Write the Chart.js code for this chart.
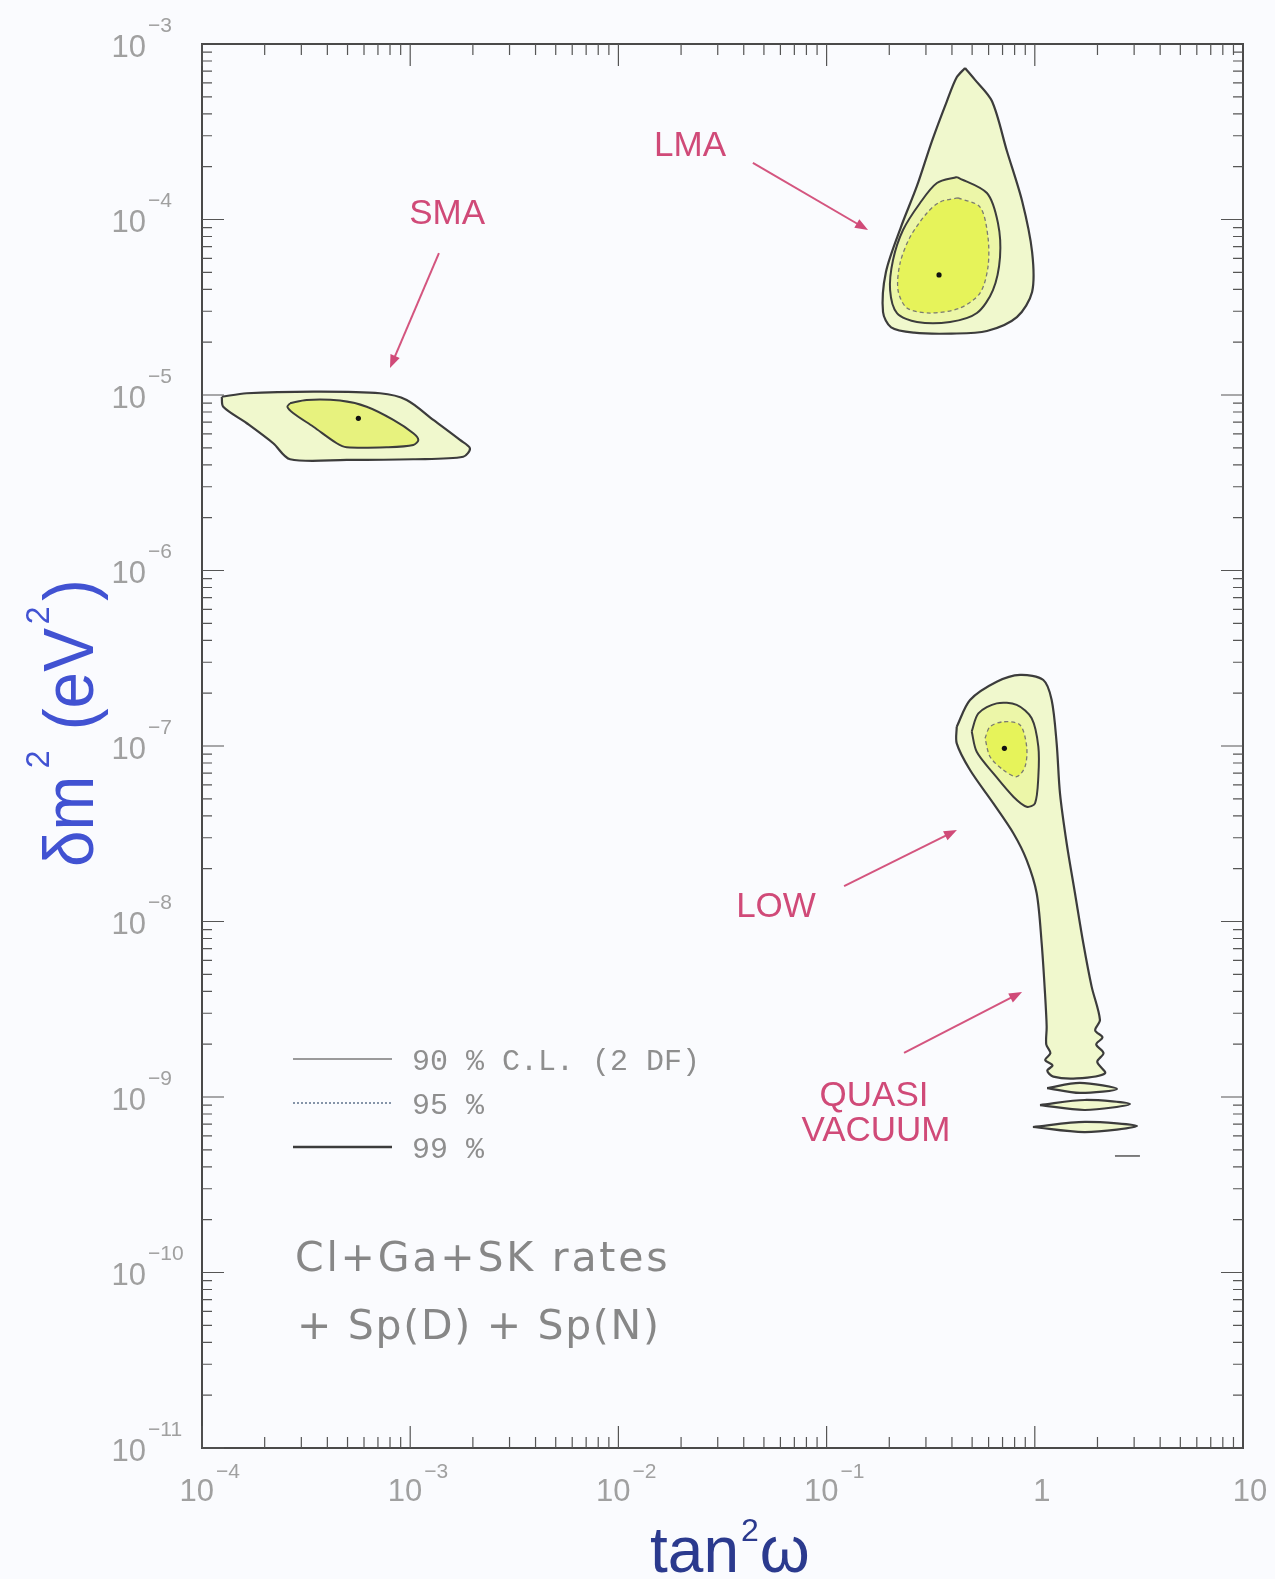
<!DOCTYPE html>
<html>
<head>
<meta charset="utf-8">
<script src="https://cdn.jsdelivr.net/npm/chart.js@4.4.1/dist/chart.umd.min.js"></script>
<style>
  html, body { margin: 0; padding: 0; background: #fafbfe; }
  canvas { display: block; }
</style>
</head>
<body>
<canvas id="chart" width="1275" height="1579"></canvas>
<script>
// Contour vertices, each as [log10 tan²ω, log10 δm²/eV²]

// SMA solution
const smaC99 = [[-3.905,-5.010],[-3.785,-4.990],[-3.465,-4.981],[-3.145,-4.990],[-3.017,-5.028],[-2.889,-5.142],
  [-2.761,-5.256],[-2.713,-5.304],[-2.745,-5.352],[-2.985,-5.366],[-3.305,-5.370],[-3.577,-5.366],
  [-3.658,-5.275],[-3.785,-5.161],[-3.898,-5.067]];
const smaC95 = [[-3.577,-5.047],[-3.497,-5.028],[-3.337,-5.032],[-3.209,-5.067],[-3.081,-5.142],[-2.985,-5.218],
  [-2.961,-5.256],[-2.985,-5.285],[-3.113,-5.298],[-3.305,-5.298],[-3.353,-5.275],[-3.465,-5.181],
  [-3.561,-5.104],[-3.590,-5.067]];
const smaBest = [[-3.249,-5.133]];

// LMA solution
const lmaC99 = [[-0.335,-3.137],[-0.290,-3.200],[-0.206,-3.325],[-0.134,-3.610],[-0.061,-3.895],[-0.013,-4.185],
  [-0.013,-4.413],[-0.086,-4.556],[-0.230,-4.635],[-0.400,-4.650],[-0.580,-4.645],[-0.690,-4.615],
  [-0.729,-4.527],[-0.715,-4.299],[-0.643,-4.043],[-0.566,-3.809],[-0.494,-3.553],[-0.422,-3.325],
  [-0.375,-3.190]];
const lmaC95 = [[-0.374,-3.758],[-0.230,-3.849],[-0.177,-4.020],[-0.167,-4.214],[-0.201,-4.402],[-0.278,-4.533],
  [-0.407,-4.584],[-0.566,-4.584],[-0.662,-4.533],[-0.695,-4.402],[-0.681,-4.231],[-0.633,-4.060],
  [-0.551,-3.906],[-0.470,-3.792]];
const lmaC90 = [[-0.369,-3.877],[-0.263,-3.929],[-0.225,-4.100],[-0.225,-4.271],[-0.263,-4.419],[-0.359,-4.504],
  [-0.503,-4.533],[-0.614,-4.504],[-0.657,-4.402],[-0.647,-4.248],[-0.599,-4.100],[-0.518,-3.963],
  [-0.455,-3.900]];
const lmaBest = [[-0.460,-4.316]];

// LOW solution, joining the quasi-vacuum tail
const lowC99 = [[-0.375,-6.890],[-0.311,-6.738],[-0.183,-6.634],[-0.071,-6.595],[0.041,-6.624],[0.081,-6.738],
  [0.105,-6.985],[0.121,-7.270],[0.153,-7.554],[0.193,-7.839],[0.233,-8.124],[0.273,-8.371],[0.313,-8.561],
  [0.290,-8.620],[0.325,-8.660],[0.295,-8.700],[0.330,-8.750],[0.300,-8.800],[0.337,-8.865],[0.201,-8.894],
  [0.089,-8.884],[0.060,-8.850],[0.085,-8.820],[0.050,-8.789],[0.075,-8.750],[0.055,-8.700],[0.057,-8.600],
  [0.049,-8.409],[0.033,-8.124],[0.009,-7.839],[-0.039,-7.650],[-0.103,-7.497],[-0.199,-7.327],
  [-0.311,-7.137],[-0.375,-6.985]];
const lowC95 = [[-0.303,-6.918],[-0.271,-6.814],[-0.183,-6.757],[-0.087,-6.766],[-0.015,-6.842],[0.017,-7.004],
  [0.017,-7.175],[0.001,-7.327],[-0.039,-7.346],[-0.103,-7.289],[-0.199,-7.156],[-0.279,-7.033]];
const lowC90 = [[-0.239,-6.956],[-0.215,-6.890],[-0.151,-6.862],[-0.071,-6.880],[-0.039,-7.004],[-0.047,-7.118],
  [-0.087,-7.175],[-0.151,-7.137],[-0.215,-7.061]];
const lowBest = [[-0.146,-7.013]];

// Quasi-vacuum islands
const qvIsland1 = [[0.059,-8.949],[0.217,-8.920],[0.395,-8.954],[0.217,-8.977]];
const qvIsland2 = [[0.025,-9.046],[0.241,-9.017],[0.457,-9.040],[0.241,-9.074]];
const qvIsland3 = [[-0.009,-9.171],[0.241,-9.142],[0.491,-9.165],[0.241,-9.200]];
const qvSliver  = [[0.385,-9.336],[0.505,-9.336]];

// Axis ticks
const xTickValues = [1e-4, 1e-3, 1e-2, 1e-1, 1, 10];
const xTickBase   = ['10', '10', '10', '10', '1', '10'];
const xTickExp    = ['\u22124', '\u22123', '\u22122', '\u22121', '', ''];
const yTickValues = [1e-11, 1e-10, 1e-9, 1e-8, 1e-7, 1e-6, 1e-5, 1e-4, 1e-3];
const yTickExp    = ['\u221211', '\u221210', '\u22129', '\u22128', '\u22127', '\u22126', '\u22125', '\u22124', '\u22123'];

// Region labels and their arrows, in the same log coordinates
const regionLabels = [
  { text: 'SMA', at: [-2.823, -3.969] },
  { text: 'LMA', at: [-1.656, -3.581] },
  { text: 'LOW', at: [-1.243, -7.917] },
  { text: 'QUASI', at: [-0.772, -8.994] },
  { text: 'VACUUM', at: [-0.763, -9.194] }
];
const regionArrows = [
  { from: [-2.862, -4.191], to: [-3.097, -4.846] },
  { from: [-1.354, -3.678], to: [-0.801, -4.060] },
  { from: [-0.916, -7.798], to: [-0.374, -7.479] },
  { from: [-0.628, -8.749], to: [-0.061, -8.402] }
];

const levelNames = ['90 % C.L. (2 DF)', '95 %', '99 %'];

const levelStyle = {
  99: { fill: '#f0f8cd', line: '#3c3c3c', width: 2.2, dash: [], order: 30 },
  95: { fill: '#ecf6a8', line: '#3c3c3c', width: 2.0, dash: [], order: 20 },
  90: { fill: '#e6f35a', line: '#7a7a72', width: 1.3, dash: [4, 3], order: 10 }
};

const toXY = arr => arr.map(([u, v]) => ({ x: Math.pow(10, u), y: Math.pow(10, v) }));
const closedLoop = arr => { const p = toXY(arr); p.push(p[0]); return p; };

function contour(label, arr, level, fillOverride) {
  const st = levelStyle[level];
  return {
    label, data: closedLoop(arr), showLine: true, fill: 'shape',
    backgroundColor: fillOverride || st.fill, borderColor: st.line, borderWidth: st.width,
    borderDash: st.dash, pointRadius: 0, tension: 0.3, order: st.order
  };
}
function bestFit(label, arr) {
  return { label, data: toXY(arr), showLine: false, pointRadius: 2.6,
    pointBackgroundColor: '#111', pointBorderWidth: 0, order: 0 };
}

const datasets = [
  contour('SMA 99%', smaC99, 99),
  contour('SMA 95%', smaC95, 95, '#e7f27e'),
  contour('LMA 99%', lmaC99, 99),
  contour('LMA 95%', lmaC95, 95),
  contour('LMA 90%', lmaC90, 90),
  contour('LOW 99%', lowC99, 99),
  contour('LOW 95%', lowC95, 95),
  contour('LOW 90%', lowC90, 90),
  contour('QV 99% a', qvIsland1, 99),
  contour('QV 99% b', qvIsland2, 99),
  contour('QV 99% c', qvIsland3, 99),
  { label: 'QV sliver', data: toXY(qvSliver), showLine: true, fill: false, borderColor: '#555',
    borderWidth: 1.5, pointRadius: 0, order: 30 },
  bestFit('SMA best fit', smaBest),
  bestFit('LMA best fit', lmaBest),
  bestFit('LOW best fit', lowBest)
];

const pageBackground = {
  id: 'pageBackground',
  beforeDraw(chart) {
    const ctx = chart.ctx;
    ctx.save();
    ctx.fillStyle = '#fafbfe';
    ctx.fillRect(0, 0, chart.width, chart.height);
    ctx.restore();
  }
};

function arrow(ctx, x1, y1, x2, y2) {
  const ang = Math.atan2(y2 - y1, x2 - x1);
  ctx.beginPath();
  ctx.moveTo(x1, y1);
  ctx.lineTo(x2 - 8 * Math.cos(ang), y2 - 8 * Math.sin(ang));
  ctx.stroke();
  ctx.beginPath();
  ctx.moveTo(x2, y2);
  ctx.lineTo(x2 - 13 * Math.cos(ang) + 5 * Math.sin(ang), y2 - 13 * Math.sin(ang) - 5 * Math.cos(ang));
  ctx.lineTo(x2 - 13 * Math.cos(ang) - 5 * Math.sin(ang), y2 - 13 * Math.sin(ang) + 5 * Math.cos(ang));
  ctx.closePath();
  ctx.fill();
}

const frameAndText = {
  id: 'frameAndText',
  afterDraw(chart) {
    const ctx = chart.ctx;
    const xs = chart.scales.x, ys = chart.scales.y;
    const { left, right, top, bottom } = chart.chartArea;
    const px = u => xs.getPixelForValue(Math.pow(10, u));
    const py = v => ys.getPixelForValue(Math.pow(10, v));
    ctx.save();

    // frame
    ctx.strokeStyle = '#4a4a4a';
    ctx.lineWidth = 2;
    ctx.strokeRect(left, top, right - left, bottom - top);

    // inward ticks on all four sides
    ctx.lineWidth = 1.2;
    ctx.strokeStyle = '#555';
    for (let d = -4; d <= 0; d++) {
      for (let m = 1; m <= 9; m++) {
        const x = xs.getPixelForValue(m * Math.pow(10, d));
        const len = m === 1 ? 22 : 11;
        ctx.beginPath();
        ctx.moveTo(x, bottom); ctx.lineTo(x, bottom - len);
        ctx.moveTo(x, top); ctx.lineTo(x, top + len);
        ctx.stroke();
      }
    }
    for (let d = -11; d <= -4; d++) {
      for (let m = 1; m <= 9; m++) {
        const y = ys.getPixelForValue(m * Math.pow(10, d));
        const len = m === 1 ? 22 : 10;
        ctx.beginPath();
        ctx.moveTo(left, y); ctx.lineTo(left + len, y);
        ctx.moveTo(right, y); ctx.lineTo(right - len, y);
        ctx.stroke();
      }
    }

    // tick labels
    ctx.fillStyle = '#a0a0a0';
    ctx.textBaseline = 'middle';
    xTickValues.forEach((v, i) => {
      const x = xs.getPixelForValue(v);
      const y = bottom + 44;
      ctx.font = '31px "Liberation Sans", Arial, sans-serif';
      if (xTickExp[i]) {
        ctx.textAlign = 'right';
        ctx.fillText(xTickBase[i], x + 12, y);
        ctx.textAlign = 'left';
        ctx.font = '21px "Liberation Sans", Arial, sans-serif';
        ctx.fillText(xTickExp[i], x + 14, y - 20);
      } else {
        ctx.textAlign = 'center';
        ctx.fillText(xTickBase[i], x + 7, y);
      }
    });
    yTickValues.forEach((v, i) => {
      const y = ys.getPixelForValue(v);
      ctx.font = '31px "Liberation Sans", Arial, sans-serif';
      ctx.textAlign = 'right';
      ctx.fillText('10', left - 56, y + 4);
      ctx.textAlign = 'left';
      ctx.font = '21px "Liberation Sans", Arial, sans-serif';
      ctx.fillText(yTickExp[i], left - 54, y - 18);
    });

    // x-axis title: tan²ω
    ctx.fillStyle = '#2b3a8e';
    ctx.textBaseline = 'alphabetic';
    ctx.textAlign = 'left';
    ctx.font = '64px "Liberation Sans", Arial, sans-serif';
    ctx.fillText('tan', 650, 1572);
    const wTan = ctx.measureText('tan').width;
    ctx.font = '32px "Liberation Sans", Arial, sans-serif';
    ctx.fillText('2', 650 + wTan + 2, 1541);
    const w2 = ctx.measureText('2').width;
    ctx.font = '64px "Liberation Sans", Arial, sans-serif';
    ctx.fillText('\u03c9', 650 + wTan + w2 + 3, 1572);

    // y-axis title: δm² (eV²), rotated
    ctx.save();
    ctx.translate(93, 723);
    ctx.rotate(-Math.PI / 2);
    ctx.fillStyle = '#4152d2';
    const mainF = '70px "Liberation Sans", Arial, sans-serif';
    const supF = '34px "Liberation Sans", Arial, sans-serif';
    const parts = [
      { t: '\u03b4m', f: mainF, dy: 0, gap: 0 },
      { t: '2', f: supF, dy: -44, gap: 8 },
      { t: ' (eV', f: mainF, dy: 0, gap: 2 },
      { t: '2', f: supF, dy: -44, gap: 4 },
      { t: ')', f: mainF, dy: 0, gap: 6 }
    ];
    let total = 0;
    parts.forEach(p => { ctx.font = p.f; p.w = ctx.measureText(p.t).width; total += p.w + p.gap; });
    const sx = 288 / total;
    ctx.scale(sx, 1);
    let cx = -total / 2;
    parts.forEach(p => { cx += p.gap; ctx.font = p.f; ctx.fillText(p.t, cx, p.dy); cx += p.w; });
    ctx.restore();

    // confidence-level key
    const keyY = [1059, 1103, 1147];
    const keyStyles = [
      { c: '#7a7a7a', w: 1.4, dash: [] },
      { c: '#8594a8', w: 2, dash: [2, 2] },
      { c: '#3c3c3c', w: 2.6, dash: [] }
    ];
    keyY.forEach((y, i) => {
      ctx.strokeStyle = keyStyles[i].c;
      ctx.lineWidth = keyStyles[i].w;
      ctx.setLineDash(keyStyles[i].dash);
      ctx.beginPath();
      ctx.moveTo(293, y); ctx.lineTo(392, y);
      ctx.stroke();
      ctx.setLineDash([]);
      ctx.fillStyle = '#8e8e8e';
      ctx.font = '30px "Liberation Mono", "DejaVu Sans Mono", monospace';
      ctx.textAlign = 'left';
      ctx.textBaseline = 'middle';
      ctx.fillText(levelNames[i], 412, y + 3);
    });

    // data-set note
    ctx.fillStyle = '#878787';
    ctx.font = '41px "DejaVu Sans", sans-serif';
    ctx.textBaseline = 'middle';
    ctx.letterSpacing = '2.8px';
    ctx.fillText('Cl+Ga+SK rates', 295, 1260);
    ctx.letterSpacing = '1.7px';
    ctx.fillText('+ Sp(D) + Sp(N)', 297, 1328);
    ctx.letterSpacing = '0px';

    // region labels and arrows
    ctx.fillStyle = '#d04a78';
    ctx.strokeStyle = '#d4557f';
    ctx.lineWidth = 2;
    ctx.font = '35px "Liberation Sans", Arial, sans-serif';
    ctx.textAlign = 'center';
    regionLabels.forEach(l => ctx.fillText(l.text, px(l.at[0]), py(l.at[1])));
    regionArrows.forEach(a => arrow(ctx, px(a.from[0]), py(a.from[1]), px(a.to[0]), py(a.to[1])));

    ctx.restore();
  }
};

new Chart(document.getElementById('chart'), {
  type: 'scatter',
  data: { datasets },
  options: {
    responsive: false,
    animation: false,
    layout: { padding: { left: 202, top: 44, right: 32, bottom: 131 } },
    scales: {
      x: { type: 'logarithmic', min: 1e-4, max: 10, display: false },
      y: { type: 'logarithmic', min: 1e-11, max: 1e-3, display: false }
    },
    plugins: {
      legend: { display: false },
      tooltip: { enabled: false }
    }
  },
  plugins: [pageBackground, frameAndText]
});
</script>
</body>
</html>
